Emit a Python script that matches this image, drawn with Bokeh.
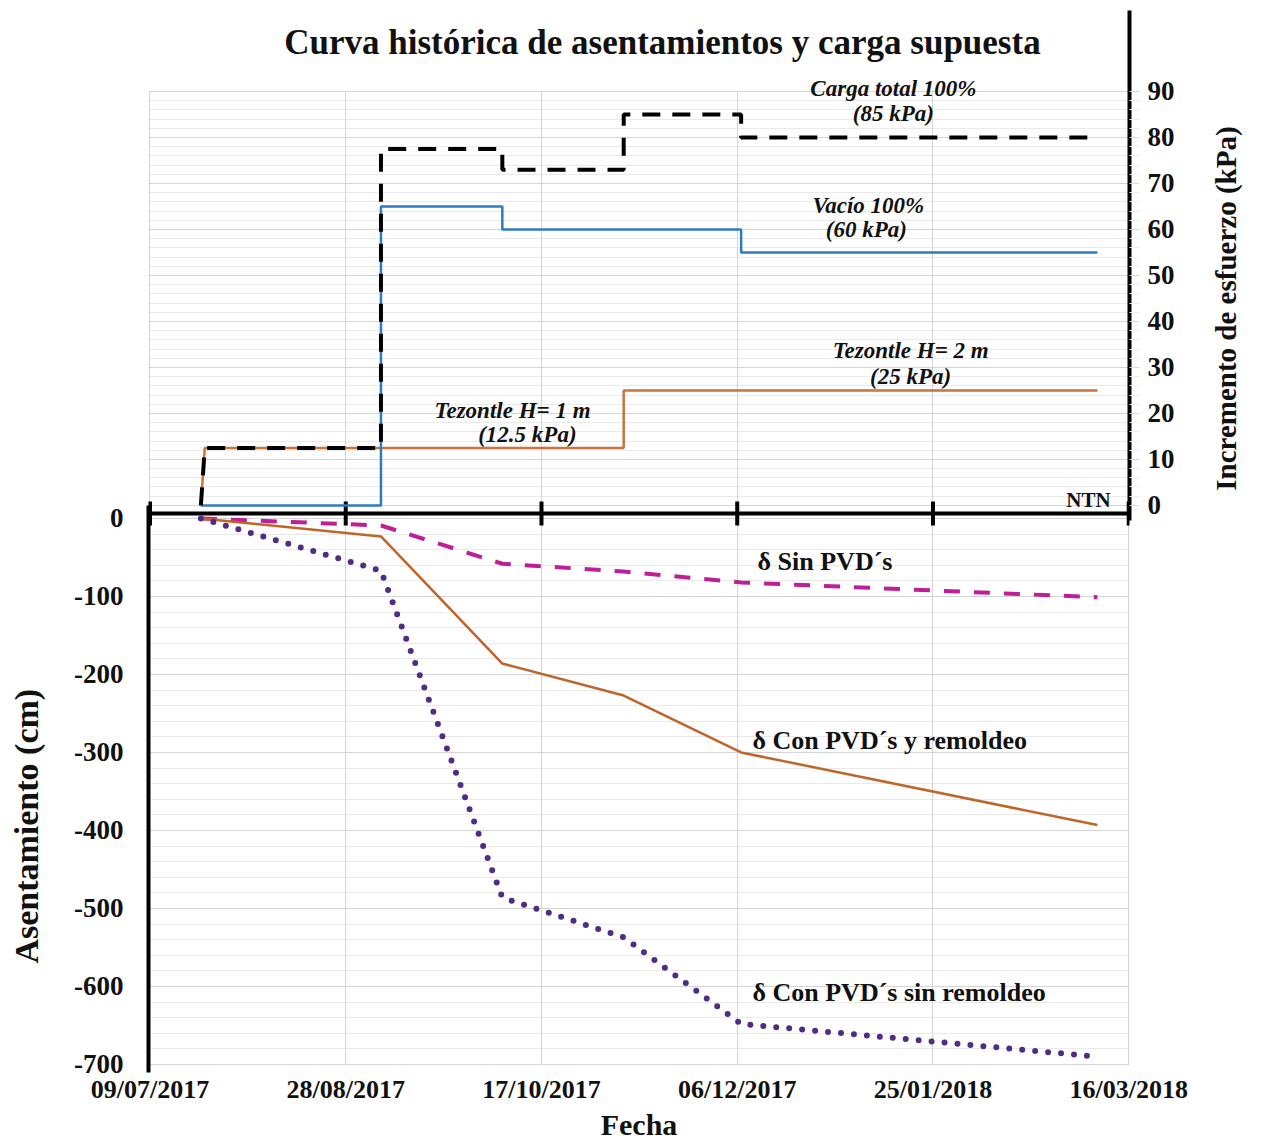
import math
import pandas as pd
from bokeh.plotting import figure
from bokeh.models import (Range1d, LinearAxis, FixedTicker, DatetimeTickFormatter,
                          Grid, Span, Label)
from bokeh.embed import file_html
from bokeh.resources import INLINE

# ---------------- data ----------------
tick_dates = ["2017-07-09", "2017-08-28", "2017-10-17", "2017-12-06", "2018-01-25", "2018-03-16"]
kpa_ticks = [0, 10, 20, 30, 40, 50, 60, 70, 80, 90]
kpa_minor = [v for v in range(0, 91, 2) if v % 10 != 0]
cm_ticks = [0, -100, -200, -300, -400, -500, -600, -700]
cm_minor = [v for v in range(0, -701, -20) if v % 100 != 0]

carga_dates = ["2017-07-22", "2017-07-23", "2017-09-06", "2017-09-06", "2017-10-07", "2017-10-07",
               "2017-11-07", "2017-11-07", "2017-12-07", "2017-12-07", "2018-03-08"]
carga_kpa = [0, 12.5, 12.5, 77.5, 77.5, 73, 73, 85, 85, 80, 80]

vacio_dates = ["2017-07-22", "2017-09-06", "2017-09-06", "2017-10-07", "2017-10-07",
               "2017-12-07", "2017-12-07", "2018-03-08"]
vacio_kpa = [0, 0, 65, 65, 60, 60, 55, 55]

tezontle_dates = ["2017-07-22", "2017-07-23", "2017-11-07", "2017-11-07", "2018-03-08"]
tezontle_kpa = [0, 12.5, 12.5, 25, 25]

settle_dates = ["2017-07-22", "2017-09-06", "2017-10-07", "2017-11-07", "2017-12-07", "2018-03-08"]
sin_pvd = [0, -9, -58, -68, -82, -101]
con_pvd_remoldeo = [0, -23, -186, -227, -300, -393]
con_pvd_sin_remoldeo = [0, -67, -486, -537, -648, -690]

# ---------------- helpers ----------------
D0 = pd.Timestamp("2017-07-09")


def day(n):
    return D0 + pd.Timedelta(days=n)


def ms(t):
    return pd.Timestamp(t).value / 1e6


SERIF = "Liberation Serif"
INK = "#111111"
NBSP = "\u00a0"
CM_LOW = -710.3

p = figure(width=1261, height=1144, x_axis_type="datetime",
           x_range=Range1d(day(-0.38), day(250.2)),
           y_range=Range1d(CM_LOW, 651.3),
           output_backend="svg", toolbar_location=None,
           min_border_left=148, min_border_right=132, min_border_top=10, min_border_bottom=72)
p.extra_y_ranges = {"kpa": Range1d(-123.3, 107.6)}
p.outline_line_color = None
p.background_fill_color = "white"
p.xgrid.visible = False
p.ygrid.visible = False

date_ticks_ms = [ms(d) for d in tick_dates]

# ---------------- grids ----------------
GRID = "#d4d4d4"
MINOR = "#eaeaea"
p.add_layout(Grid(dimension=1, y_range_name="kpa",
                  ticker=FixedTicker(ticks=kpa_ticks, minor_ticks=kpa_minor),
                  grid_line_color=GRID, minor_grid_line_color=MINOR), "center")
p.add_layout(Grid(dimension=0, y_range_name="kpa", ticker=FixedTicker(ticks=date_ticks_ms),
                  cross_bounds=(0, 90), grid_line_color=GRID), "center")
p.add_layout(Grid(dimension=1, ticker=FixedTicker(ticks=cm_ticks, minor_ticks=cm_minor),
                  grid_line_color=GRID, minor_grid_line_color=MINOR), "center")
p.add_layout(Grid(dimension=0, ticker=FixedTicker(ticks=date_ticks_ms),
                  cross_bounds=(-700, 0), grid_line_color=GRID), "center")

# ---------------- axes ----------------
ya = p.yaxis[0]
ya.ticker = FixedTicker(ticks=cm_ticks)
ya.major_label_overrides = {v: str(v) for v in cm_ticks}
ya.bounds = (CM_LOW, 16.7)
ya.axis_line_width = 4
ya.axis_line_color = "black"
ya.major_tick_line_color = None
ya.minor_tick_line_color = None
ya.major_tick_out = 0
ya.major_tick_in = 0
ya.major_label_standoff = 25
ya.major_label_text_font = SERIF
ya.major_label_text_font_style = "bold"
ya.major_label_text_font_size = "27px"
ya.major_label_text_color = INK
# trailing no-break spaces move the centred title down toward the settlement panel
ya.axis_label = "Asentamiento (cm)" + NBSP * 67
ya.axis_label_standoff = 26
ya.axis_label_text_font = SERIF
ya.axis_label_text_font_style = "bold"
ya.axis_label_text_font_size = "34px"
ya.axis_label_text_color = INK

ra = LinearAxis(y_range_name="kpa", ticker=FixedTicker(ticks=kpa_ticks, minor_ticks=kpa_minor))
ra.bounds = (-3.3, 107.6)
ra.axis_line_width = 4
ra.axis_line_color = "black"
ra.major_tick_out = 10
ra.major_tick_in = 0
ra.major_tick_line_color = "#dadada"
ra.minor_tick_out = 10
ra.minor_tick_in = 0
ra.minor_tick_line_color = "#eeeeee"
ra.major_label_standoff = 8
ra.major_label_text_font = SERIF
ra.major_label_text_font_style = "bold"
ra.major_label_text_font_size = "27px"
ra.major_label_text_color = INK
ra.axis_label = NBSP * 7 + "Incremento de esfuerzo (kPa)"
ra.axis_label_orientation = math.pi / 2
ra.axis_label_standoff = 48
ra.axis_label_text_font = SERIF
ra.axis_label_text_font_style = "bold"
ra.axis_label_text_font_size = "29px"
ra.axis_label_text_color = INK
p.add_layout(ra, "right")

xa = p.xaxis[0]
xa.ticker = FixedTicker(ticks=date_ticks_ms)
fmt = "%d/%m/%Y"
xa.formatter = DatetimeTickFormatter(microseconds=fmt, milliseconds=fmt, seconds=fmt, minsec=fmt,
                                     minutes=fmt, hourmin=fmt, hours=fmt, days=fmt,
                                     months=fmt, years=fmt)
xa.axis_line_color = None
xa.major_tick_line_color = None
xa.minor_tick_line_color = None
xa.major_tick_out = 0
xa.major_tick_in = 0
xa.major_label_standoff = 2
xa.major_label_text_font = SERIF
xa.major_label_text_font_style = "bold"
xa.major_label_text_font_size = "26px"
xa.major_label_text_color = INK
xa.axis_label = "Fecha"
xa.axis_label_standoff = 1
xa.axis_label_text_font = SERIF
xa.axis_label_text_font_style = "bold"
xa.axis_label_text_font_size = "30px"
xa.axis_label_text_color = INK

# middle x-axis line (NTN) with crossing ticks
AXIS_Y = 6.4
p.add_layout(Span(location=AXIS_Y, dimension="width", line_color="black", line_width=4))
p.scatter(x=pd.to_datetime(tick_dates), y=[AXIS_Y] * len(tick_dates), marker="dash",
          angle=math.pi / 2, size=24, line_width=4, line_color="black")

# ---------------- top: loads ----------------
p.line(pd.to_datetime(tezontle_dates), tezontle_kpa, y_range_name="kpa",
       line_color="#C8743A", line_width=2.5)
p.line(pd.to_datetime(vacio_dates), vacio_kpa, y_range_name="kpa",
       line_color="#2E7BC0", line_width=2.5)
p.line(pd.to_datetime(carga_dates), carga_kpa, y_range_name="kpa",
       line_color="black", line_width=4, line_dash="18 12")

# ---------------- bottom: settlements ----------------
sd = pd.to_datetime(settle_dates)
p.line(sd, sin_pvd, line_color="#BF1E96", line_width=4, line_dash="16 14")
p.line(sd, con_pvd_remoldeo, line_color="#C0652A", line_width=2.5)
p.line(sd, con_pvd_sin_remoldeo, line_color="#4F2D84", line_width=6,
       line_dash="0 13", line_cap="round")


# ---------------- texts ----------------
def add_label(x_day, y, text, size, style, align="center", rng="default"):
    p.add_layout(Label(x=ms(day(x_day)), y=y, y_range_name=rng, text=text,
                       text_font=SERIF, text_font_style=style, text_font_size=size,
                       text_color=INK, text_align=align, text_baseline="middle"))


add_label(130.9, 100.65, "Curva histórica de asentamientos y carga supuesta", "35px", "bold", rng="kpa")
add_label(189.9, 90.6, "Carga total 100%", "23px", "bold italic", rng="kpa")
add_label(189.9, 85.2, "(85 kPa)", "23px", "bold italic", rng="kpa")
add_label(183.5, 65.2, "Vacío 100%", "23px", "bold italic", rng="kpa")
add_label(183.0, 60.0, "(60 kPa)", "23px", "bold italic", rng="kpa")
add_label(194.3, 33.7, "Tezontle H= 2 m", "23px", "bold italic", rng="kpa")
add_label(194.3, 28.0, "(25 kPa)", "23px", "bold italic", rng="kpa")
add_label(92.6, 20.7, "Tezontle H= 1 m", "23px", "bold italic", rng="kpa")
add_label(96.4, 15.4, "(12.5 kPa)", "23px", "bold italic", rng="kpa")
add_label(239.7, 1.1, "NTN", "21px", "bold", rng="kpa")

add_label(155.2, -55, "δ Sin PVD´s", "26px", "bold", align="left")
add_label(153.9, -285, "δ Con PVD´s y remoldeo", "26px", "bold", align="left")
add_label(153.9, -608, "δ Con PVD´s sin remoldeo", "26px", "bold", align="left")

open("out.html", "w").write(file_html(p, INLINE))
